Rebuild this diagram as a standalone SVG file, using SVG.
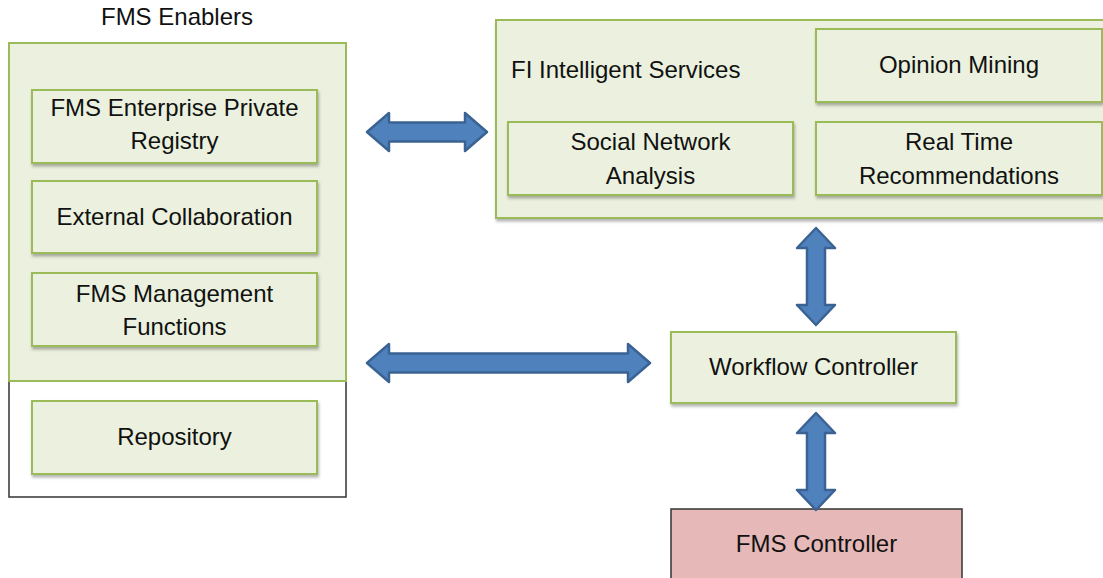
<svg xmlns="http://www.w3.org/2000/svg" width="1103" height="578" viewBox="0 0 1103 578">
  <defs>
    <filter id="shadow" x="-5%" y="-10%" width="112%" height="130%">
      <feDropShadow dx="1" dy="2.5" stdDeviation="1.5" flood-color="#000" flood-opacity="0.3"/>
    </filter>
  </defs>
  <style>
    .txt { font-family: "Liberation Sans", Arial, sans-serif; font-size: 24px; fill: #111111; }
    .mid { text-anchor: middle; }
    .green { fill: #ebf1de; stroke: #9bbb59; stroke-width: 2; }
    .box { fill: #ebf1de; stroke: #9bbb59; stroke-width: 2; filter: url(#shadow); }
    .frame { fill: #ffffff; stroke: #333333; stroke-width: 1.5; }
    .red { fill: #e6b9b8; stroke: #333333; stroke-width: 1.5; }
    .arrow { fill: #4f81bd; stroke: #3a6393; stroke-width: 2.5; stroke-linejoin: round; }
  </style>

  <!-- FMS Enablers container -->
  <g id="fms-enablers">
    <text class="txt mid" x="177" y="25">FMS Enablers</text>
    <rect class="frame" x="9" y="43" width="337" height="454"/>
    <rect class="green" x="9" y="43" width="337" height="338"/>
  </g>

  <g id="enterprise-registry">
    <rect class="box" x="32" y="90" width="285" height="73"/>
    <text class="txt mid" x="174.5" y="116">FMS Enterprise Private</text>
    <text class="txt mid" x="174.5" y="149">Registry</text>
  </g>

  <g id="external-collaboration">
    <rect class="box" x="32" y="181" width="285" height="72"/>
    <text class="txt mid" x="174.5" y="225">External Collaboration</text>
  </g>

  <g id="management-functions">
    <rect class="box" x="32" y="273" width="285" height="73"/>
    <text class="txt mid" x="174.5" y="302">FMS Management</text>
    <text class="txt mid" x="174.5" y="335">Functions</text>
  </g>

  <g id="repository">
    <rect class="box" x="32" y="401" width="285" height="73"/>
    <text class="txt mid" x="174.5" y="445">Repository</text>
  </g>

  <!-- FI Intelligent Services container -->
  <g id="fi-services">
    <rect class="box" x="496" y="20" width="612" height="198"/>
    <text class="txt" x="511" y="78">FI Intelligent Services</text>
  </g>

  <g id="opinion-mining">
    <rect class="box" x="816" y="29" width="286" height="73"/>
    <text class="txt mid" x="959" y="73">Opinion Mining</text>
  </g>

  <g id="social-network-analysis">
    <rect class="box" x="508" y="122" width="285" height="73"/>
    <text class="txt mid" x="650.5" y="150">Social Network</text>
    <text class="txt mid" x="650.5" y="184">Analysis</text>
  </g>

  <g id="real-time-recommendations">
    <rect class="box" x="816" y="122" width="286" height="73"/>
    <text class="txt mid" x="959" y="150">Real Time</text>
    <text class="txt mid" x="959" y="184">Recommendations</text>
  </g>

  <g id="workflow-controller">
    <rect class="box" x="671" y="332" width="285" height="71"/>
    <text class="txt mid" x="813.5" y="375">Workflow Controller</text>
  </g>

  <g id="fms-controller">
    <rect class="red" x="671" y="509" width="291" height="80"/>
    <text class="txt mid" x="816.5" y="552">FMS Controller</text>
  </g>

  <!-- Double-headed block arrows -->
  <g id="connectors">
    <path class="arrow" d="M367,132 L389,113 L389,122.5 L465,122.5 L465,113 L487,132 L465,151 L465,141.5 L389,141.5 L389,151 Z"/>
    <path class="arrow" d="M367,363 L389,344 L389,353.5 L628,353.5 L628,344 L650,363 L628,382 L628,372.5 L389,372.5 L389,382 Z"/>
    <path class="arrow" d="M816,228 L835,248 L825,248 L825,305 L835,305 L816,325 L797,305 L807,305 L807,248 L797,248 Z"/>
    <path class="arrow" d="M816,413 L835,433 L825,433 L825,490 L835,490 L816,510 L797,490 L807,490 L807,433 L797,433 Z"/>
  </g>
</svg>
